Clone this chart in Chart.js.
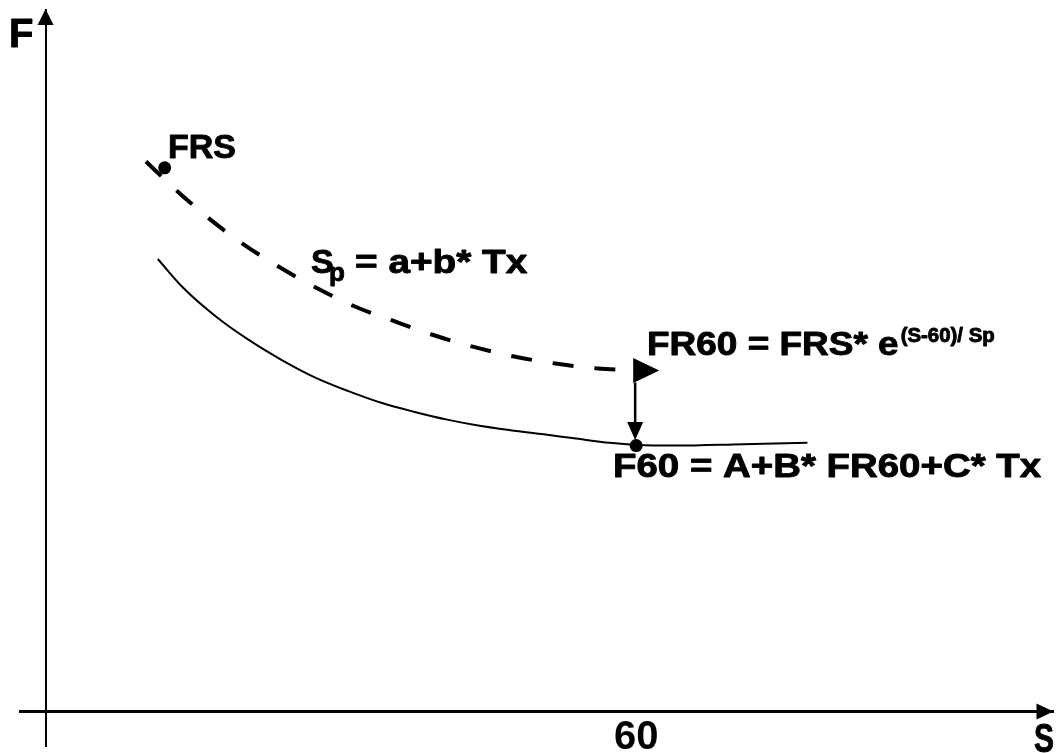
<!DOCTYPE html>
<html>
<head>
<meta charset="utf-8">
<script src="https://cdn.jsdelivr.net/npm/chart.js@4.4.1/dist/chart.umd.min.js"></script>
<style>
  html, body { margin: 0; padding: 0; background: #ffffff; }
  #wrap { width: 1060px; height: 753px; }
</style>
</head>
<body>
<div id="wrap"><canvas id="c" width="1060" height="753"></canvas></div>
<script>
// ---- data ----
const xTickValues = [60];

// measured curve F (solid): S values and F values
const solidS = [11.4, 13.9, 17.3, 20.6, 24.0, 27.4, 30.7, 34.1, 37.5, 40.8, 43.8, 47.2, 50.6, 53.9, 57.3, 60.1, 64.0, 70.8, 77.4];
const solidF = [64.5, 60.5, 56.3, 53.0, 50.1, 47.6, 45.7, 44.0, 42.7, 41.6, 40.8, 40.1, 39.5, 38.9, 38.3, 38.0, 37.9, 38.1, 38.3];

// extrapolated FR curve (dashed)
const dashedS = [10.2, 13.2, 16.5, 20.0, 23.7, 27.5, 31.3, 35.3, 39.3, 43.4, 47.6, 51.8, 56.1, 59.7];
const dashedF = [78.4, 74.4, 70.4, 66.7, 63.4, 60.4, 57.8, 55.7, 53.7, 52.0, 50.6, 49.6, 48.9, 48.6];

// marked points: FRS and F60
const markS = [12.1, 60.0];
const markF = [77.5, 37.9];

// vertical arrow FR60 -> F60
const arrowS = [60.0, 60.0];
const arrowF = [46.9, 38.7];

// axis extents
const xRange = [-2.6, 102.4];
const yRange = [-5, 100];

const toXY = (xs, ys) => xs.map((v, i) => ({ x: v, y: ys[i] }));

const FONT = '"Liberation Sans", Arial, Helvetica, sans-serif';

function drawText(ctx, s, x, y, size, sx) {
  ctx.save();
  ctx.font = 'bold ' + size + 'px ' + FONT;
  ctx.textBaseline = 'alphabetic';
  ctx.textAlign = 'left';
  ctx.fillStyle = '#000';
  ctx.strokeStyle = '#000';
  ctx.lineWidth = 0.9;
  ctx.lineJoin = 'round';
  ctx.translate(x, y);
  ctx.scale(sx, 1);
  ctx.fillText(s, 0, 0);
  ctx.strokeText(s, 0, 0);
  const w = ctx.measureText(s).width * sx;
  ctx.restore();
  return w;
}

function tri(ctx, pts) {
  ctx.beginPath();
  ctx.moveTo(pts[0][0], pts[0][1]);
  ctx.lineTo(pts[1][0], pts[1][1]);
  ctx.lineTo(pts[2][0], pts[2][1]);
  ctx.closePath();
  ctx.fill();
}

const decor = {
  id: 'decor',
  afterDatasetsDraw(chart) {
    const ctx = chart.ctx;
    const xs = chart.scales.x, ys = chart.scales.y;
    ctx.save();
    ctx.fillStyle = '#000';
    ctx.strokeStyle = '#000';

    // y axis arrowhead
    const x0 = xs.getPixelForValue(0);
    const yTop = ys.getPixelForValue(yRange[1]) - 1;
    tri(ctx, [[x0, yTop], [x0 - 8, yTop + 16], [x0 + 8, yTop + 16]]);

    // x axis arrowhead
    const y0 = ys.getPixelForValue(0);
    const xEnd = xs.getPixelForValue(xRange[1]);
    tri(ctx, [[xEnd, y0], [xEnd - 17, y0 - 8], [xEnd - 17, y0 + 8]]);

    // dashed curve end arrowhead
    const n = dashedS.length - 1;
    const dx = xs.getPixelForValue(dashedS[n]);
    const dy = ys.getPixelForValue(dashedF[n]);
    tri(ctx, [[dx, dy - 12.5], [dx, dy + 12.5], [dx + 26, dy]]);

    // vertical arrow FR60 -> F60
    const ax = xs.getPixelForValue(arrowS[0]) - 1;
    const a1 = ys.getPixelForValue(arrowF[0]);
    const a2 = ys.getPixelForValue(arrowF[1]);
    ctx.lineWidth = 2.5;
    ctx.beginPath();
    ctx.moveTo(ax, a1);
    ctx.lineTo(ax, a2 - 16);
    ctx.stroke();
    tri(ctx, [[ax, a2], [ax - 8, a2 - 18], [ax + 8, a2 - 18]]);

    // texts
    drawText(ctx, 'F', 9, 47, 40, 1);
    drawText(ctx, 'S', 1034, 752, 40, 0.75);
    drawText(ctx, 'FRS', 168, 158, 34, 1);
    drawText(ctx, 'S', 311, 273, 34, 1);
    drawText(ctx, 'p', 329, 281, 26, 1);
    drawText(ctx, '= a+b* Tx', 355, 273, 34, 1.14);
    const w = drawText(ctx, 'FR60 = FRS* e', 647, 355, 33, 1.12);
    drawText(ctx, '(S-60)/ Sp', 647 + w + 2, 342, 20, 1.02);
    drawText(ctx, 'F60 = A+B* FR60+C* Tx', 613, 477, 34, 1.13);
    ctx.restore();
  }
};

new Chart(document.getElementById('c'), {
  type: 'scatter',
  data: {
    datasets: [
      {
        label: 'F',
        data: toXY(solidS, solidF),
        showLine: true,
        borderColor: '#000',
        borderWidth: 2,
        pointRadius: 0,
        cubicInterpolationMode: 'monotone'
      },
      {
        label: 'FR',
        data: toXY(dashedS, dashedF),
        showLine: true,
        borderColor: '#000',
        borderWidth: 4,
        borderDash: [21, 21],
        borderCapStyle: 'butt',
        pointRadius: 0,
        cubicInterpolationMode: 'monotone'
      },
      {
        label: 'points',
        data: toXY(markS, markF),
        showLine: false,
        pointRadius: 6.5,
        pointBackgroundColor: '#000',
        pointBorderWidth: 0
      }
    ]
  },
  options: {
    responsive: false,
    animation: false,
    devicePixelRatio: 1,
    layout: { padding: { left: 20, right: 0, top: 10, bottom: 6 } },
    plugins: {
      legend: { display: false },
      tooltip: { enabled: false }
    },
    scales: {
      x: {
        type: 'linear',
        min: xRange[0],
        max: xRange[1],
        position: { y: 0 },
        grid: { display: false, drawTicks: false },
        border: { display: true, color: '#000', width: 3 },
        afterBuildTicks: (axis) => { axis.ticks = xTickValues.map(v => ({ value: v })); },
        ticks: {
          color: '#000',
          padding: 3,
          maxRotation: 0,
          autoSkip: false,
          font: { family: FONT, size: 40, weight: 'bold' },
          callback: (v) => String(v)
        }
      },
      y: {
        type: 'linear',
        min: yRange[0],
        max: yRange[1],
        position: { x: 0 },
        grid: { display: false, drawTicks: false },
        border: { display: true, color: '#000', width: 2 },
        ticks: { display: false }
      }
    }
  },
  plugins: [decor]
});
</script>
</body>
</html>
